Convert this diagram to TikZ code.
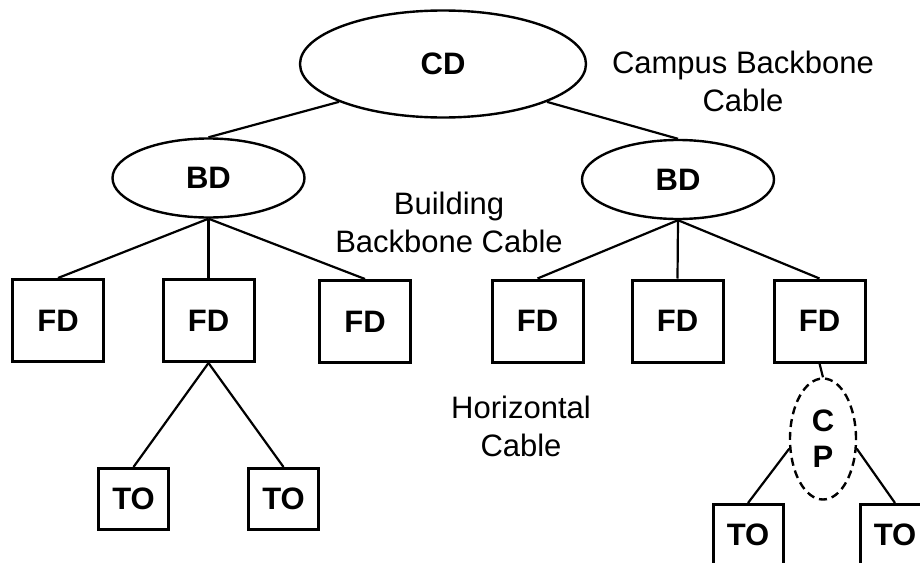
\documentclass[tikz,border=0pt]{standalone}
\usepackage{fontspec}
\setmainfont{Liberation Sans}
\usetikzlibrary{shapes.geometric}

\begin{document}
\begin{tikzpicture}[x=0.5pt, y=-0.5pt,
  dnode/.style={draw=black, ellipse, line width=1.2pt, inner sep=0pt,
    font=\fontsize{15.5}{19}\selectfont\bfseries},
  fdbox/.style={draw=black, rectangle, line width=1.5pt, minimum width=45.5pt,
    minimum height=41pt, inner sep=0pt, font=\fontsize{15.5}{19}\selectfont\bfseries},
  tobox/.style={draw=black, rectangle, line width=1.5pt, minimum width=35pt,
    minimum height=30.5pt, inner sep=0pt, font=\fontsize{15.5}{19}\selectfont\bfseries},
  cpnode/.style={dnode, dash pattern=on 4pt off 2.5pt, align=center,
    font=\fontsize{15.5}{18}\selectfont\bfseries},
  cable/.style={line width=1.1pt},
  note/.style={align=center, font=\fontsize{15.5}{19}\selectfont, inner sep=0pt},
]
\useasboundingbox (0,0) rectangle (920,562);
\clip (0,0) rectangle (920,562);

%==================== CAMPUS: CD ====================
\node[dnode, minimum width=143pt, minimum height=53.5pt] (CD) at (443,64) {CD};

%==================== BUILDING: BD ====================
\node[dnode, minimum width=96pt, minimum height=39.5pt] (BDL) at (208.5,178) {BD};
\node[dnode, minimum width=96pt, minimum height=39.5pt] (BDR) at (678,179.5) {BD};

%==================== FLOOR: FD ====================
\node[fdbox] (FDa) at (58,320.5)    {FD};
\node[fdbox] (FDb) at (208.5,320.5) {FD};
\node[fdbox] (FDc) at (365,321.5)   {FD};
\node[fdbox] (FDd) at (537.5,321)   {FD};
\node[fdbox] (FDe) at (677.5,321)   {FD};
\node[fdbox] (FDf) at (819.5,321)   {FD};

%==================== CONSOLIDATION POINT: CP ====================
\node[cpnode, minimum width=33pt, minimum height=60.5pt] (CP) at (823,439) {C\\P};

%==================== OUTLETS: TO ====================
\node[tobox] (TOa) at (133.5,499) {TO};
\node[tobox] (TOb) at (283.5,499) {TO};
\node[tobox] (TOc) at (748,535)   {TO};
\node[tobox] (TOd) at (895,535)   {TO};

%==================== CABLES ====================
% campus backbone
\draw[cable] (CD.200) -- (BDL.north);
\draw[cable] (CD.340) -- (BDR.north);

% building backbone
\draw[cable] (BDL.south) -- (FDa.north);
\draw[cable] (BDL.south) -- (FDb.north);
\draw[cable] (BDL.south) -- (FDc.north);
\draw[cable] (BDR.south) -- (FDd.north);
\draw[cable] (BDR.south) -- (FDe.north);
\draw[cable] (BDR.south) -- (FDf.north);

% horizontal
\draw[cable] (FDb.south) -- (TOa.north);
\draw[cable] (FDb.south) -- (TOb.north);
\draw[cable] (FDf.south) -- (CP.north);
\draw[cable] (CP.196) -- (TOc.north);
\draw[cable] (CP.344) -- (TOd.north);

%==================== LABELS ====================
\node[note] (campus) at (743,81) {Campus Backbone\\Cable};
\node[note] (building) at (449,222) {Building\\Backbone Cable};
\node[note] (horiz) at (521,426) {Horizontal\\Cable};

\end{tikzpicture}
\end{document}
